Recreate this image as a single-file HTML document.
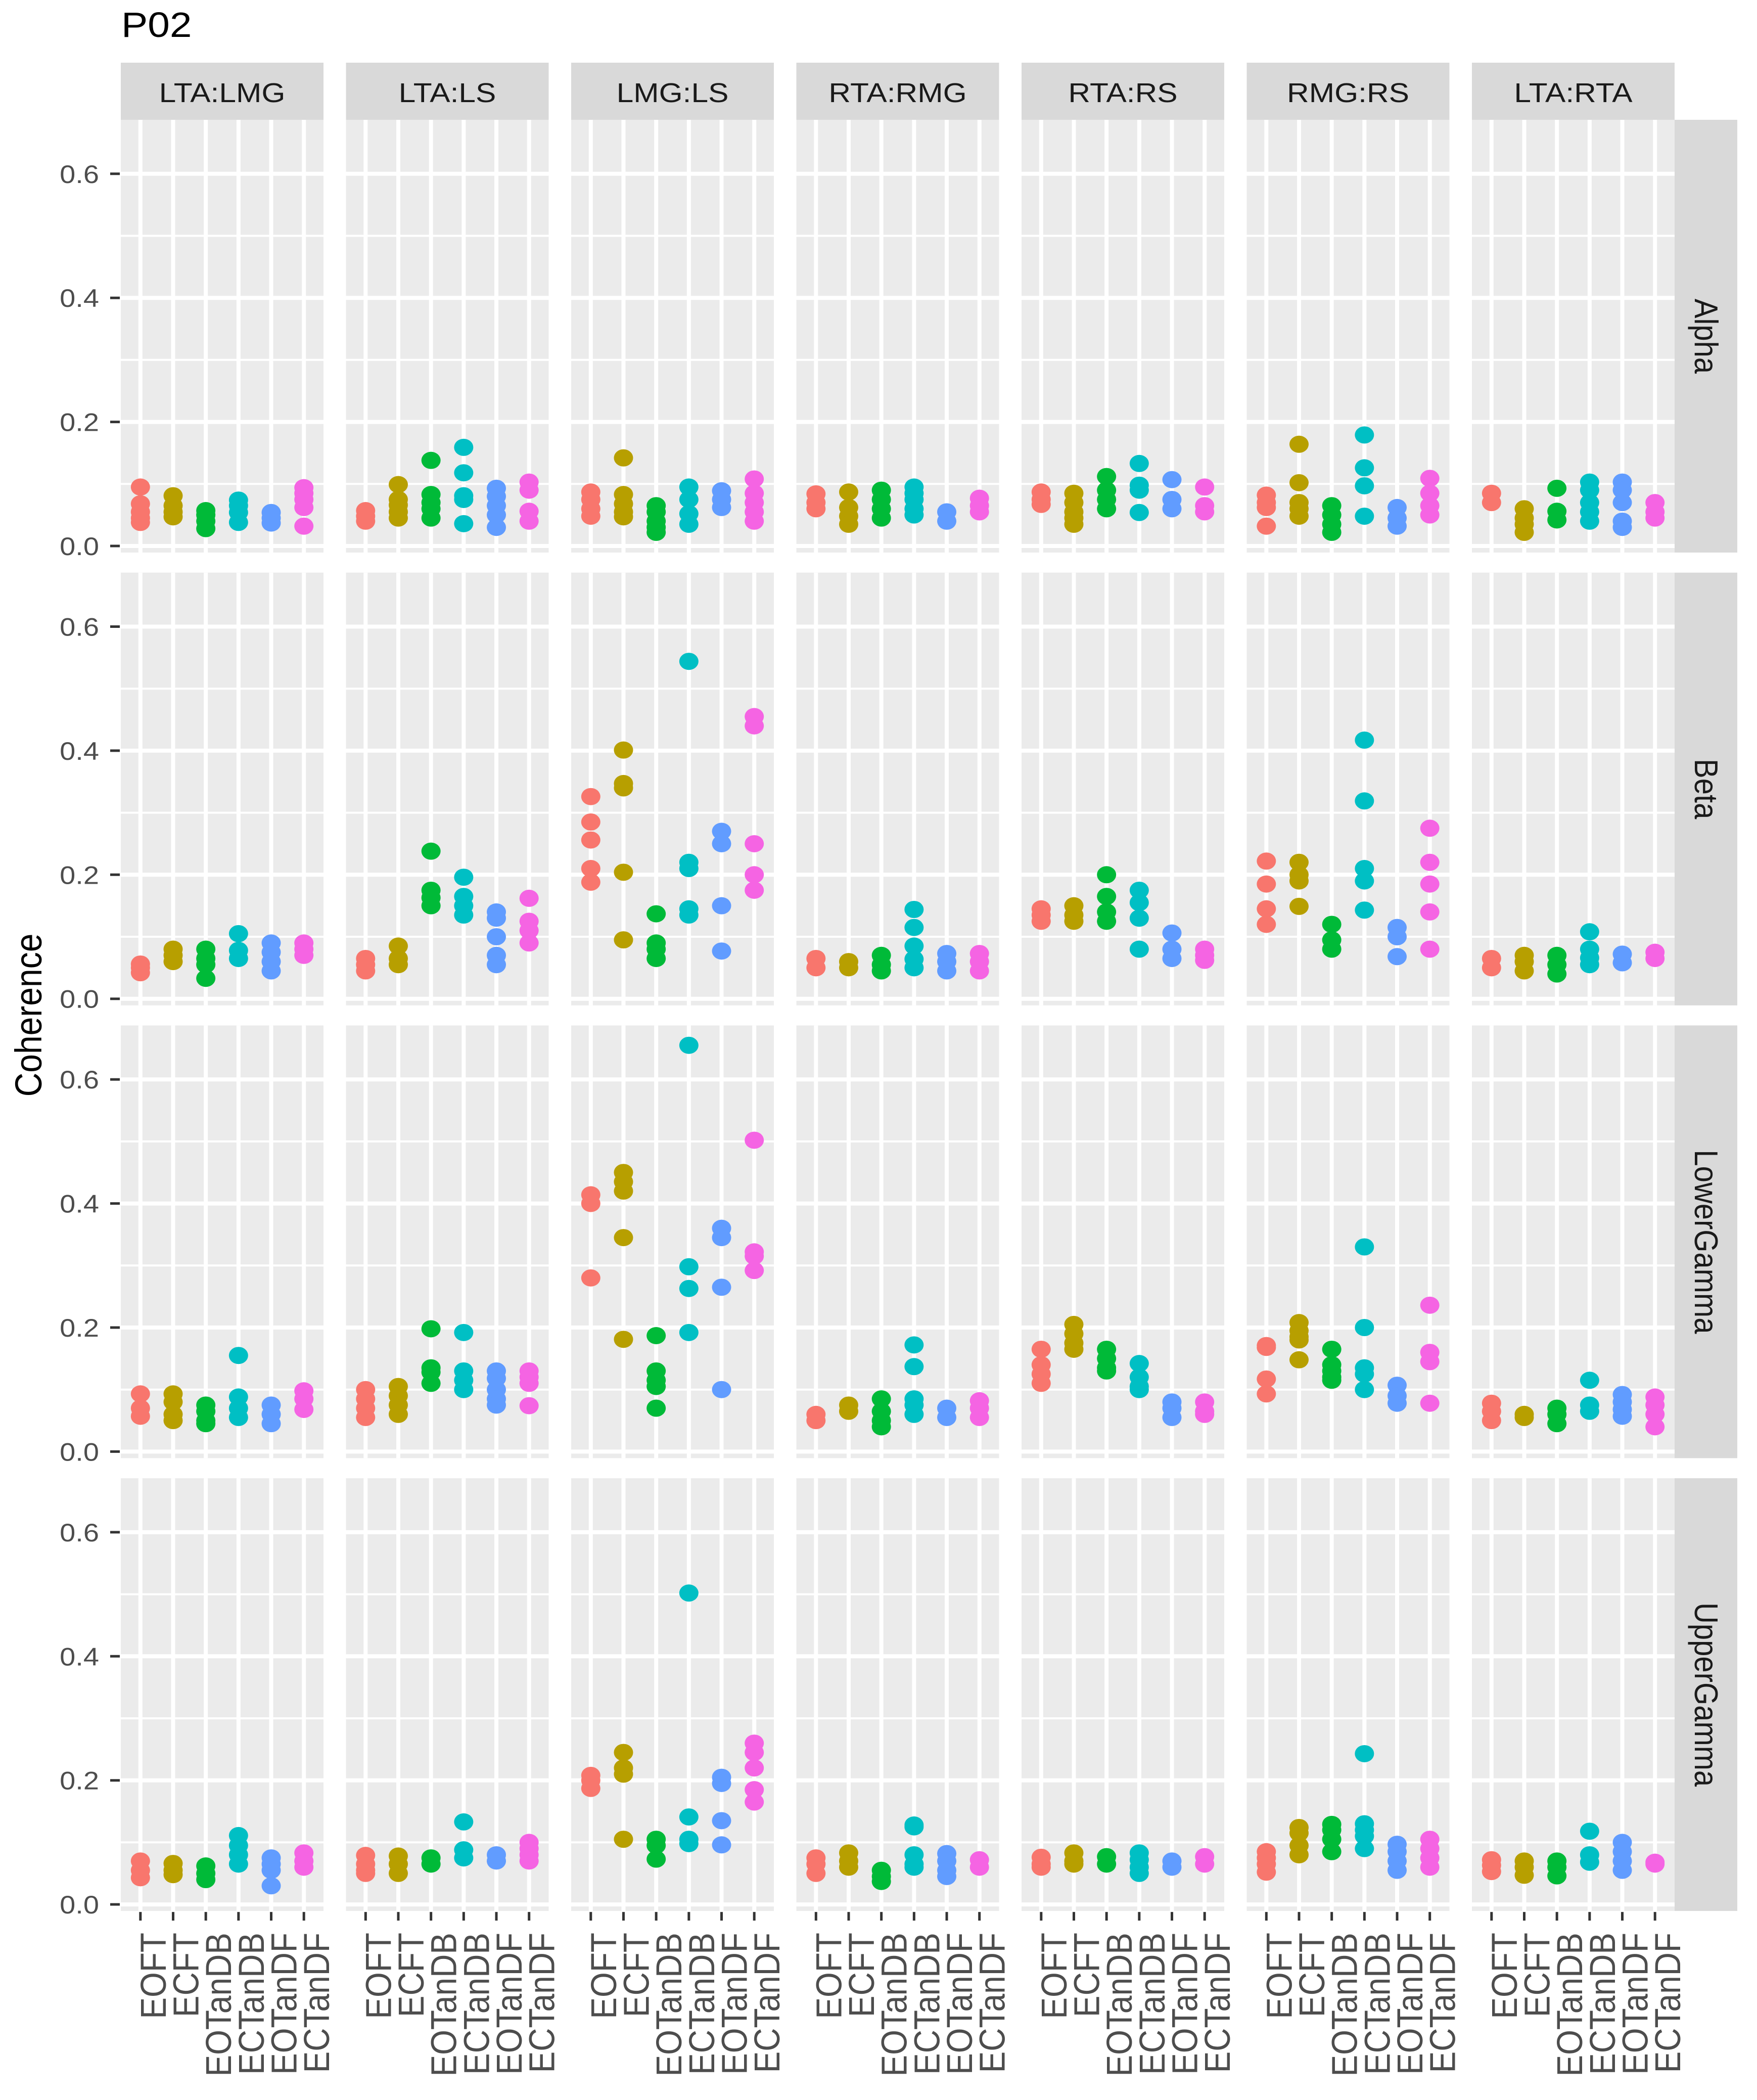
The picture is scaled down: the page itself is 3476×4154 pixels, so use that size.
<!DOCTYPE html>
<html><head><meta charset="utf-8"><title>P02 Coherence</title>
<style>html,body{margin:0;padding:0;background:#fff}svg{display:block}</style></head>
<body>
<svg id="chart" xmlns="http://www.w3.org/2000/svg" width="3476" height="4154" viewBox="0 0 3476 4154" font-family="Liberation Sans, Arial, sans-serif"></svg>
<script>
const pairs = ["LTA:LMG","LTA:LS","LMG:LS","RTA:RMG","RTA:RS","RMG:RS","LTA:RTA"];
const bands = ["Alpha","Beta","LowerGamma","UpperGamma"];
const categories = ["EOFT","ECFT","EOTanDB","ECTanDB","EOTanDF","ECTanDF"];
const colors = ["#F8766D","#B79F00","#00BA38","#00BFC4","#619CFF","#F564E3"];
const yTicks = [0.0,0.2,0.4,0.6];
const yTickLabels = ["0.0","0.2","0.4","0.6"];
const yMinor = [0.1,0.3,0.5];

const alphaVals = [
 [[0.095,0.068,0.055,0.045,0.038],[0.081,0.065,0.055,0.047],[0.057,0.05,0.04,0.028],[0.074,0.065,0.054,0.038],[0.054,0.045,0.037],[0.094,0.085,0.075,0.062,0.032]],
 [[0.057,0.048,0.04],[0.099,0.075,0.066,0.055,0.045],[0.138,0.083,0.07,0.06,0.045],[0.159,0.118,0.081,0.075,0.036],[0.093,0.08,0.065,0.05,0.03],[0.103,0.09,0.056,0.04]],
 [[0.087,0.075,0.06,0.048],[0.142,0.083,0.068,0.055,0.047],[0.065,0.055,0.04,0.03,0.022],[0.095,0.075,0.052,0.035],[0.089,0.075,0.062],[0.108,0.085,0.07,0.055,0.04]],
 [[0.084,0.07,0.06],[0.087,0.062,0.048,0.035],[0.09,0.075,0.06,0.045],[0.095,0.085,0.075,0.06,0.05],[0.055,0.04],[0.077,0.065,0.055]],
 [[0.087,0.075,0.067],[0.085,0.07,0.055,0.045,0.035],[0.112,0.09,0.075,0.06],[0.133,0.098,0.09,0.054],[0.107,0.075,0.06],[0.095,0.065,0.055]],
 [[0.082,0.07,0.062,0.032],[0.164,0.102,0.07,0.06,0.048],[0.065,0.05,0.035,0.022],[0.179,0.126,0.097,0.048],[0.062,0.045,0.032],[0.109,0.085,0.065,0.05]],
 [[0.085,0.07],[0.06,0.045,0.035,0.022],[0.093,0.056,0.042],[0.103,0.09,0.07,0.055,0.04],[0.103,0.09,0.07,0.04,0.03],[0.07,0.055,0.045]]
];
const betaVals = [
 [[0.056,0.05,0.042],[0.08,0.07,0.06],[0.08,0.065,0.055,0.033],[0.105,0.078,0.065],[0.09,0.075,0.06,0.045],[0.09,0.08,0.07]],
 [[0.065,0.055,0.045],[0.085,0.065,0.055],[0.238,0.175,0.163,0.15],[0.196,0.165,0.15,0.135],[0.14,0.13,0.1,0.07,0.055],[0.162,0.125,0.11,0.09]],
 [[0.326,0.285,0.256,0.21,0.188],[0.401,0.347,0.34,0.204,0.095],[0.137,0.09,0.08,0.065],[0.544,0.22,0.21,0.145,0.135],[0.27,0.25,0.15,0.077],[0.455,0.44,0.25,0.2,0.175]],
 [[0.065,0.05],[0.06,0.05],[0.07,0.055,0.045],[0.144,0.115,0.085,0.064,0.05],[0.073,0.06,0.045],[0.073,0.06,0.045]],
 [[0.145,0.135,0.125],[0.15,0.135,0.125],[0.2,0.165,0.14,0.125],[0.175,0.155,0.13,0.08],[0.106,0.08,0.065],[0.08,0.07,0.062]],
 [[0.222,0.185,0.145,0.12],[0.22,0.2,0.19,0.149],[0.12,0.095,0.08],[0.417,0.319,0.21,0.19,0.143],[0.115,0.1,0.068],[0.275,0.22,0.185,0.14,0.08]],
 [[0.065,0.05],[0.07,0.06,0.045],[0.07,0.055,0.04],[0.108,0.08,0.066,0.055],[0.072,0.058],[0.075,0.065]]
];
const lowerGammaVals = [
 [[0.093,0.07,0.057],[0.093,0.08,0.06,0.05],[0.075,0.065,0.05,0.045],[0.155,0.088,0.07,0.055],[0.075,0.06,0.045],[0.098,0.085,0.068]],
 [[0.1,0.085,0.07,0.055],[0.105,0.09,0.075,0.06],[0.198,0.135,0.128,0.11],[0.192,0.13,0.115,0.1],[0.13,0.118,0.1,0.085,0.075],[0.13,0.12,0.11,0.074]],
 [[0.414,0.4,0.28],[0.45,0.435,0.42,0.345,0.181],[0.187,0.13,0.115,0.105,0.07],[0.655,0.298,0.263,0.192],[0.36,0.345,0.265,0.1],[0.502,0.322,0.315,0.292]],
 [[0.06,0.05],[0.075,0.065],[0.085,0.065,0.05,0.04],[0.172,0.137,0.085,0.075,0.06],[0.07,0.055],[0.082,0.07,0.055]],
 [[0.165,0.14,0.125,0.11],[0.205,0.19,0.175,0.165],[0.165,0.15,0.135,0.13],[0.142,0.12,0.105,0.1],[0.08,0.07,0.055],[0.08,0.065,0.06]],
 [[0.171,0.168,0.117,0.093],[0.208,0.195,0.185,0.18,0.148],[0.165,0.14,0.13,0.12,0.115],[0.33,0.2,0.135,0.125,0.1],[0.107,0.09,0.078],[0.236,0.16,0.145,0.078]],
 [[0.078,0.065,0.05],[0.06,0.055],[0.07,0.06,0.045],[0.115,0.075,0.065],[0.092,0.08,0.068,0.057],[0.088,0.075,0.06,0.04]]
];
const upperGammaVals = [
 [[0.07,0.055,0.043],[0.066,0.055,0.048],[0.062,0.05,0.04],[0.111,0.095,0.08,0.065],[0.075,0.065,0.055,0.03],[0.083,0.07,0.06]],
 [[0.079,0.065,0.055,0.05],[0.078,0.065,0.05],[0.075,0.065],[0.133,0.088,0.075],[0.08,0.07],[0.1,0.09,0.08,0.07]],
 [[0.208,0.2,0.187],[0.245,0.22,0.21,0.105],[0.105,0.095,0.073],[0.502,0.141,0.105,0.098],[0.205,0.195,0.135,0.096],[0.26,0.245,0.22,0.185,0.165]],
 [[0.075,0.065,0.05],[0.083,0.07,0.06],[0.055,0.045,0.037],[0.128,0.125,0.08,0.065,0.06],[0.082,0.07,0.055,0.045],[0.072,0.06]],
 [[0.076,0.065,0.06],[0.083,0.07,0.065],[0.077,0.065],[0.083,0.072,0.06,0.05],[0.07,0.06],[0.077,0.065]],
 [[0.085,0.075,0.065,0.052],[0.124,0.115,0.095,0.08],[0.129,0.12,0.105,0.085],[0.243,0.13,0.12,0.11,0.09],[0.097,0.085,0.07,0.055],[0.105,0.09,0.075,0.06]],
 [[0.072,0.063,0.053],[0.07,0.06,0.047],[0.07,0.06,0.046],[0.118,0.08,0.068],[0.1,0.085,0.07,0.055],[0.068,0.065]]
];
const bandData = [alphaVals, betaVals, lowerGammaVals, upperGammaVals];

const NS = "http://www.w3.org/2000/svg";
const svg = document.getElementById("chart");
const P0 = 239, PITCH = 445.5, PW = 401, PH = 856, ROW0 = 237, RPITCH = 895.7;
const YPX = 1227;
function panelX(c){ return P0 + c*PITCH; }
function panelTop(r){ return ROW0 + r*RPITCH; }
function yScale(r, v){ return panelTop(r) + PH - 13 - v*YPX; }
function xScale(c, i){ return panelX(c) + (i + 1 - 0.4)/6.2*PW; }
function mk(tag, attrs, parent){
  const e = document.createElementNS(NS, tag);
  for (const k in attrs) e.setAttribute(k, attrs[k]);
  (parent||svg).appendChild(e); return e;
}
const SX = 1.12;

let t = mk("text", {transform:`translate(240,73) scale(${SX},1)`, "font-size":70, fill:"#000"});
t.textContent = "P02";



t = mk("text", {transform:`translate(82,2008) scale(${SX},1) rotate(-90)`, "font-size":66, fill:"#000", "text-anchor":"middle"});
t.textContent = "Coherence";



for (let c = 0; c < pairs.length; c++){
  const sx = panelX(c);
  const strip = mk("rect", {x:sx, y:124, width:PW, height:113, fill:"#D9D9D9"});
  
  
  const st = mk("text", {transform:`translate(${sx+PW/2},202) scale(${SX},1)`, "font-size":54, fill:"#1a1a1a", "text-anchor":"middle"});
  st.textContent = pairs[c];
  
  
}

for (let r = 0; r < bands.length; r++){
  const top = panelTop(r);
  const rs = mk("rect", {x:3313, y:top, width:124, height:PH, fill:"#D9D9D9"});
  
  
  const rt = mk("text", {transform:`translate(3353,${top+PH/2}) scale(${SX},1) rotate(90)`, "font-size":58, fill:"#1a1a1a", "text-anchor":"middle"});
  rt.textContent = bands[r];
  
  

  for (let k = 0; k < yTicks.length; k++){
    const y = yScale(r, yTicks[k]);
    const tk = mk("line", {x1:218, x2:237, y1:y, y2:y, stroke:"#333", "stroke-width":5});
    
    
    const tl = mk("text", {transform:`translate(196,${y+18}) scale(${SX},1)`, "font-size":50, fill:"#4d4d4d", "text-anchor":"end"});
    tl.textContent = yTickLabels[k];
    
    
  }

  for (let c = 0; c < pairs.length; c++){
    const px = panelX(c);
    const g = mk("g", {});
    
    
    const bg = mk("rect", {x:px, y:top, width:PW, height:PH, fill:"#EBEBEB"}, g);
    
    
    for (const m of yMinor){
      const y = yScale(r, m);
      const ml = mk("line", {x1:px, x2:px+PW, y1:y, y2:y, stroke:"#fff", "stroke-width":4}, g);
      
      
    }
    for (const m of yTicks){
      const y = yScale(r, m);
      const gl = mk("line", {x1:px, x2:px+PW, y1:y, y2:y, stroke:"#fff", "stroke-width":8}, g);
      
      
    }
    for (let i = 0; i < categories.length; i++){
      const x = xScale(c, i);
      const vl = mk("line", {x1:x, x2:x, y1:top, y2:top+PH, stroke:"#fff", "stroke-width":8}, g);
      
      
    }
    const vals = bandData[r][c];
    for (let i = 0; i < categories.length; i++){
      const x = xScale(c, i);
      for (const v of vals[i]){
        const p = mk("ellipse", {cx:x, cy:yScale(r, v), rx:19, ry:17, fill:colors[i]}, g);
        
        
      }
    }
    if (r === bands.length - 1){
      for (let i = 0; i < categories.length; i++){
        const x = xScale(c, i);
        const xt = mk("line", {x1:x, x2:x, y1:top+PH+2, y2:top+PH+19, stroke:"#333", "stroke-width":5});
        
        
        const xl = mk("text", {transform:`translate(${x+50},3823) scale(${SX},1) rotate(-90)`, "font-size":64, fill:"#4d4d4d", "text-anchor":"end"});
        xl.textContent = categories[i];
        
        
      }
    }
  }
}
</script>
</body></html>
